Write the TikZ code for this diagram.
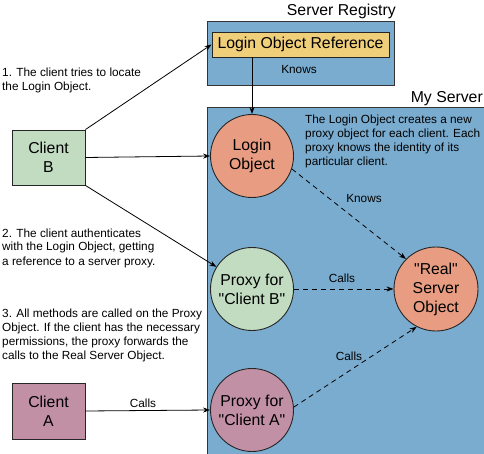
\documentclass[tikz,border=0pt]{standalone}
\usepackage{fontspec}
\setmainfont{Liberation Sans}[Ligatures=TeXOff]
\usetikzlibrary{arrows.meta}
\definecolor{regblue}{HTML}{7AACCF}
\definecolor{refyel}{HTML}{F0CF7A}
\definecolor{salmon}{HTML}{E89D82}
\definecolor{mint}{HTML}{C2DCC1}
\definecolor{mauve}{HTML}{C290A4}
\begin{document}
\begin{tikzpicture}[x=1pt,y=-1pt,
 bigfont/.style={font=\fontsize{15.8}{19}\selectfont},
 smallfont/.style={font=\fontsize{11.8}{14}\selectfont},
 container/.style={draw=black!80, fill=regblue, line width=1pt},
 client/.style={draw=black!85, line width=0.9pt, minimum width=73pt, minimum height=55pt, inner sep=0, align=center, bigfont},
 obj/.style={circle, draw=black!85, line width=0.9pt, minimum size=83pt, inner sep=0, align=center, bigfont},
 note/.style={inner sep=0, align=left, smallfont, anchor=base west},
 lbl/.style={inner sep=0, smallfont},
 title/.style={inner sep=0, bigfont, anchor=base east},
 arr/.style={-{Stealth[length=7pt,width=5pt]}, line width=0.8pt},
 darr/.style={arr, dash pattern=on 5pt off 4pt},
]
\useasboundingbox (0,0) rectangle (484,454);
\draw[container] (207,22) rectangle (394,86);
\draw[container] (207,108) rectangle (487,457);
\node[title] (regt) at (396,16) {Server Registry};
\node[title] (srvt) at (483,103) {My Server};
\node[draw=black!85, fill=refyel, line width=0.9pt, minimum width=177pt, minimum height=25pt, inner sep=0, bigfont] (lor) at (300.5,44.5) {Login Object Reference};
\node[lbl] (k1) at (299,70) {Knows};
\node[obj, fill=salmon] (lo) at (252,156) {Login\\Object};
\node[obj, fill=mint] (pb) at (252,289) {Proxy for\\"Client B"};
\node[obj, fill=mauve] (pa) at (252,410) {Proxy for\\"Client A"};
\node[obj, fill=salmon, minimum size=84pt] (rso) at (436,289) {"Real"\\Server\\Object};
\node[client, fill=mint] (cb) at (48.5,157.5) {Client\\B};
\node[client, fill=mauve, minimum height=56pt] (ca) at (48.5,411) {Client\\A};
\node[note] (n1) at (2,91) {1. The client tries to locate\\the Login Object.};
\node[note] (n2) at (2,265) {2. The client authenticates\\with the Login Object, getting\\a reference to a server proxy.};
\node[note] (n3) at (2,359) {3. All methods are called on the Proxy\\Object. If the client has the necessary\\permissions, the proxy forwards the\\calls to the Real Server Object.};
\node[note] (n4) at (305,166) {The Login Object creates a new\\proxy object for each client. Each\\proxy knows the identity of its\\particular client.};
\node[lbl] (k2) at (364,198) {Knows};
\node[lbl] (c1) at (342,278) {Calls};
\node[lbl] (c2) at (349,356) {Calls};
\node[lbl] (c3) at (143,403) {Calls};
\draw[arr] (cb.north east) -- (lor.west);
\draw[arr] (cb.east) -- (lo.west);
\draw[arr] (cb.south east) -- (pb);
\draw[arr] (ca.east) -- (pa.west);
\draw[arr] (lor.south -| lo) -- (lo.north);
\draw[darr] (lo.-18) -- (rso.135);
\draw[darr] (pb.east) -- (rso.west);
\draw[darr] (pa.4) -- (rso.243);
\end{tikzpicture}
\end{document}
